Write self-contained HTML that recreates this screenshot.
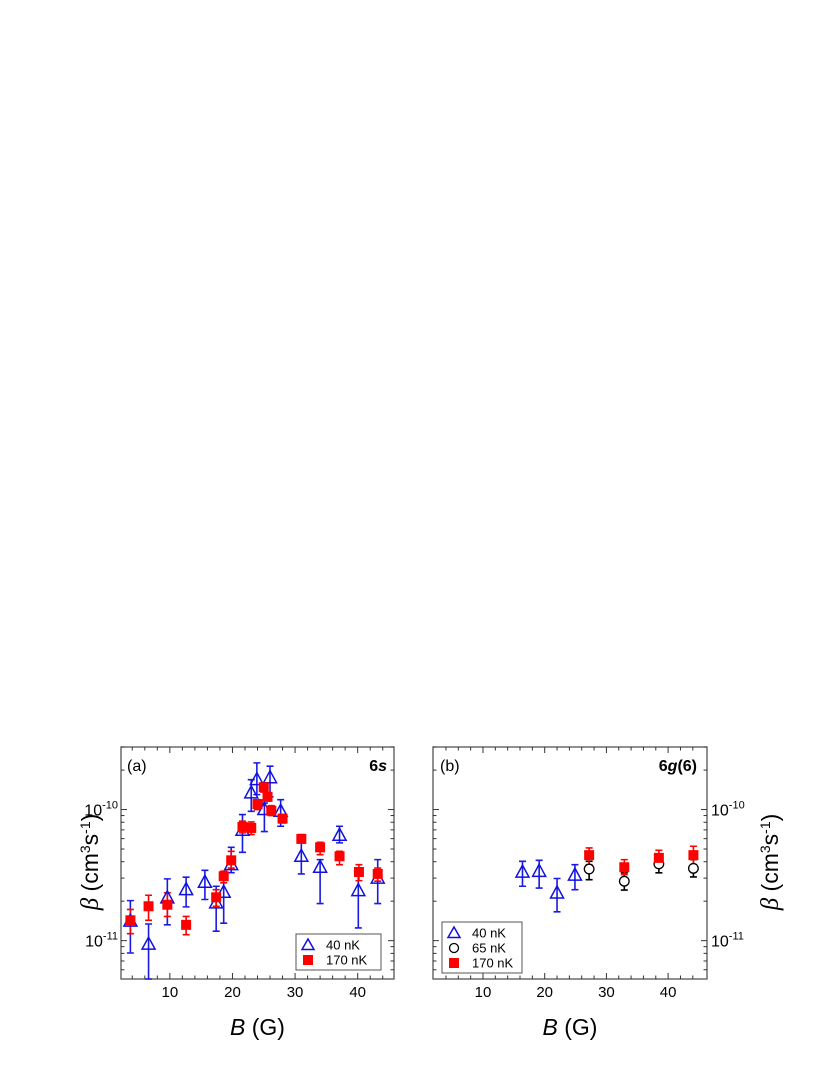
<!DOCTYPE html>
<html><head><meta charset="utf-8"><style>
html,body{margin:0;padding:0;background:#fff;}
svg{display:block;font-family:"Liberation Sans",sans-serif;}
</style></head><body>
<svg id="chart" width="830" height="1075" viewBox="0 0 830 1075" xmlns="http://www.w3.org/2000/svg"></svg>
<script>
// Panel (a) 6s
const a40B = [3.7,6.6,9.6,12.6,15.6,17.4,18.6,19.8,21.6,23.0,23.9,25.1,26.0,27.7,31.0,34.0,37.1,40.1,43.2];
const a40V = [1.41e-11,9.4e-12,2.12e-11,2.45e-11,2.79e-11,1.94e-11,2.34e-11,3.8e-11,6.95e-11,1.34e-10,1.69e-10,1.0e-10,1.75e-10,9.7e-11,4.4e-11,3.63e-11,6.37e-11,2.41e-11,3.0e-11];
const a40Hi = [2.02e-11,1.34e-11,2.96e-11,3.05e-11,3.44e-11,2.6e-11,3.06e-11,5.15e-11,9.16e-11,1.69e-10,2.27e-10,1.12e-10,2.14e-10,1.19e-10,6.26e-11,4.15e-11,7.46e-11,3.29e-11,4.15e-11];
const a40Lo = [8.05e-12,5.1e-12,1.32e-11,1.81e-11,2.06e-11,1.18e-11,1.36e-11,3.3e-11,4.72e-11,9.7e-11,1.3e-10,6.8e-11,1.25e-10,7.46e-11,3.23e-11,1.92e-11,5.57e-11,1.25e-11,1.92e-11];
const a170B = [3.7,6.6,9.6,12.6,17.4,18.6,19.8,21.6,23.0,24.0,25.0,25.6,26.2,28.0,31.0,34.0,37.1,40.2,43.2];
const a170V = [1.43e-11,1.83e-11,1.88e-11,1.32e-11,2.14e-11,3.1e-11,4.1e-11,7.37e-11,7.24e-11,1.1e-10,1.48e-10,1.25e-10,9.8e-11,8.53e-11,5.97e-11,5.15e-11,4.4e-11,3.34e-11,3.23e-11];
const a170Hi = [1.73e-11,2.22e-11,2.32e-11,1.53e-11,2.45e-11,3.39e-11,4.8e-11,8.15e-11,8.05e-11,1.19e-10,1.6e-10,1.34e-10,1.07e-10,9.16e-11,6.45e-11,5.63e-11,4.8e-11,3.8e-11,3.58e-11];
const a170Lo = [1.13e-11,1.43e-11,1.53e-11,1.11e-11,1.83e-11,2.76e-11,3.58e-11,6.64e-11,6.44e-11,1.0e-10,1.36e-10,1.16e-10,9.0e-11,7.91e-11,5.57e-11,4.53e-11,3.8e-11,2.87e-11,2.84e-11];
// Panel (b) 6g(6)
const b40B = [16.4,19.1,22.0,24.9];
const b40V = [3.33e-11,3.38e-11,2.31e-11,3.16e-11];
const b40Hi = [4.03e-11,4.1e-11,2.98e-11,3.8e-11];
const b40Lo = [2.6e-11,2.52e-11,1.66e-11,2.45e-11];
const b65B = [27.2,32.9,38.5,44.1];
const b65V = [3.52e-11,2.84e-11,3.85e-11,3.56e-11];
const b65Hi = [4.03e-11,3.29e-11,4.49e-11,4.15e-11];
const b65Lo = [2.92e-11,2.43e-11,3.29e-11,3.06e-11];
const b170B = [27.2,32.9,38.5,44.1];
const b170V = [4.49e-11,3.63e-11,4.28e-11,4.49e-11];
const b170Hi = [5.1e-11,4.15e-11,4.89e-11,5.25e-11];
const b170Lo = [3.8e-11,3.19e-11,3.92e-11,3.8e-11];
const xTicks = [10,20,30,40];
const yDecades = [-11,-10];

const NS = "http://www.w3.org/2000/svg";
const svg = document.getElementById('chart');
function mk(tag, attrs, parent){const e=document.createElementNS(NS,tag);for(const k in attrs)e.setAttribute(k,attrs[k]);(parent||svg).appendChild(e);return e;}

const TOP=747, BOT=979;
const yMin=Math.log10(5.1e-12), yMax=Math.log10(3.0e-10);
function yS(v){return BOT-(Math.log10(v)-yMin)/(yMax-yMin)*(BOT-TOP);}

function panel(name,L,R,x0,x1,labelSide){
  const g=mk('g',{});
  
  
  const xS=b=>L+(b-x0)/(x1-x0)*(R-L);
  const fr=mk('rect',{x:L,y:TOP,width:R-L,height:BOT-TOP,fill:'none',stroke:'#555','stroke-width':1.3},g);
  
  
  for(let b=4;b<=44;b+=2){
    const maj=b%10===0, len=maj?6:3.5, x=xS(b);
    mk('line',{x1:x,x2:x,y1:BOT,y2:BOT-len,stroke:'#333','stroke-width':1},g);
    mk('line',{x1:x,x2:x,y1:TOP,y2:TOP+len,stroke:'#333','stroke-width':1},g);
  }
  xTicks.forEach(t=>{
    const tx=mk('text',{x:xS(t),y:997,'text-anchor':'middle','font-size':15,fill:'#000'},g);
    tx.textContent=t;
    
    
  });
  for(let d=-12;d<=-10;d++){
    for(let m=1;m<=9;m++){
      const v=m*Math.pow(10,d); if(v<5.1e-12||v>3e-10) continue;
      const y=yS(v), len=m===1?6:3.5;
      mk('line',{x1:L,x2:L+len,y1:y,y2:y,stroke:'#333','stroke-width':1},g);
      mk('line',{x1:R,x2:R-len,y1:y,y2:y,stroke:'#333','stroke-width':1},g);
    }
  }
  yDecades.forEach(d=>{
    const y=yS(Math.pow(10,d));
    const tx=mk('text',{x:labelSide==='left'?L-3:R+4,y:y+6,'text-anchor':labelSide==='left'?'end':'start','font-size':16,fill:'#000'},g);
    
    
    tx.innerHTML='10<tspan dy="-7" font-size="11">'+d+'</tspan>';
  });
  const xt=mk('text',{x:(L+R)/2,y:1035,'text-anchor':'middle','font-size':23,fill:'#000'},g);
  
  
  xt.innerHTML='<tspan font-style="italic">B</tspan> (G)';
  return {g,xS};
}

function errs(g,xS,B,V,Hi,Lo,col){
  B.forEach((b,i)=>{
    const x=xS(b);
    const ln=mk('path',{d:`M${x},${yS(Hi[i])}V${yS(Lo[i])}M${x-3.5},${yS(Hi[i])}h7M${x-3.5},${yS(Lo[i])}h7`,stroke:col,'stroke-width':1.6,fill:'none'},g);
    
    
  });
}
function tris(g,xS,B,V){
  B.forEach((b,i)=>{
    const x=xS(b),y=yS(V[i]);
    const p=mk('path',{d:`M${x},${y-7}L${x+6.5},${y+5}L${x-6.5},${y+5}Z`,fill:'none',stroke:'#1010e0','stroke-width':1.5},g);
    
    
  });
}
function sqs(g,xS,B,V){
  B.forEach((b,i)=>{
    const x=xS(b),y=yS(V[i]);
    const p=mk('rect',{x:x-5,y:y-5,width:10,height:10,fill:'#f00'},g);
    
    
  });
}
function circs(g,xS,B,V){
  B.forEach((b,i)=>{
    const p=mk('circle',{cx:xS(b),cy:yS(V[i]),r:4.8,fill:'#fff',stroke:'#000','stroke-width':1.3},g);
    
    
  });
}

const pa=panel('panel-a',121,394,2.2,45.8,'left');
errs(pa.g,pa.xS,a40B,a40V,a40Hi,a40Lo,'#1a1ae6');
errs(pa.g,pa.xS,a170B,a170V,a170Hi,a170Lo,'#f00');
tris(pa.g,pa.xS,a40B,a40V);
sqs(pa.g,pa.xS,a170B,a170V);
const pb=panel('panel-b',433,707,1.9,46.3,'right');
errs(pb.g,pb.xS,b40B,b40V,b40Hi,b40Lo,'#1a1ae6');
errs(pb.g,pb.xS,b65B,b65V,b65Hi,b65Lo,'#000');
errs(pb.g,pb.xS,b170B,b170V,b170Hi,b170Lo,'#f00');
tris(pb.g,pb.xS,b40B,b40V);
circs(pb.g,pb.xS,b65B,b65V);
sqs(pb.g,pb.xS,b170B,b170V);

function txt(x,y,html,attrs,name){const t=mk('text',Object.assign({x:x,y:y,fill:'#000'},attrs));t.innerHTML=html;
  
  
  return t;}
txt(127,771,'(a)',{'font-size':16},'panel-a-label');
txt(387,771,'6<tspan font-style="italic">s</tspan>',{'font-size':16,'font-weight':'bold','text-anchor':'end'},'panel-a-state');
txt(440,771,'(b)',{'font-size':16},'panel-b-label');
txt(697,771,'6<tspan font-style="italic">g</tspan>(6)',{'font-size':16,'font-weight':'bold','text-anchor':'end'},'panel-b-state');
const yt='<tspan font-style="italic" font-family="Liberation Serif" font-size="25">β</tspan> (cm<tspan dy="-8" font-size="14">3</tspan><tspan dy="8">s</tspan><tspan dy="-8" font-size="14">-1</tspan><tspan dy="8">)</tspan>';
txt(0,0,yt,{'font-size':23,'text-anchor':'middle',transform:'translate(98,862) rotate(-90)'},'y-axis-title-left');
txt(0,0,yt,{'font-size':23,'text-anchor':'middle',transform:'translate(778,862) rotate(-90)'},'y-axis-title-right');

function legend(name,x,y,w,entries){
  const g=mk('g',{});
  
  
  mk('rect',{x:x,y:y,width:w,height:entries.length*15+6,fill:'#fff',stroke:'#555','stroke-width':1},g);
  entries.forEach((e,i)=>{
    const cy=y+11+i*15, cx=x+12;
    if(e[0]==='t') mk('path',{d:`M${cx},${cy-6}L${cx+6},${cy+4.5}L${cx-6},${cy+4.5}Z`,fill:'none',stroke:'#1010e0','stroke-width':1.5},g);
    if(e[0]==='c') mk('circle',{cx:cx,cy:cy,r:4.5,fill:'none',stroke:'#000','stroke-width':1.3},g);
    if(e[0]==='s') mk('rect',{x:cx-5,y:cy-5,width:10,height:10,fill:'#f00'},g);
    const t=mk('text',{x:x+30,y:cy+4.5,'font-size':13,fill:'#000'},g);
    t.textContent=e[1];
    
    
  });
}
legend('legend-a',296,934,85,[['t','40 nK'],['s','170 nK']]);
legend('legend-b',442,922,80,[['t','40 nK'],['c','65 nK'],['s','170 nK']]);
</script>
</body></html>
